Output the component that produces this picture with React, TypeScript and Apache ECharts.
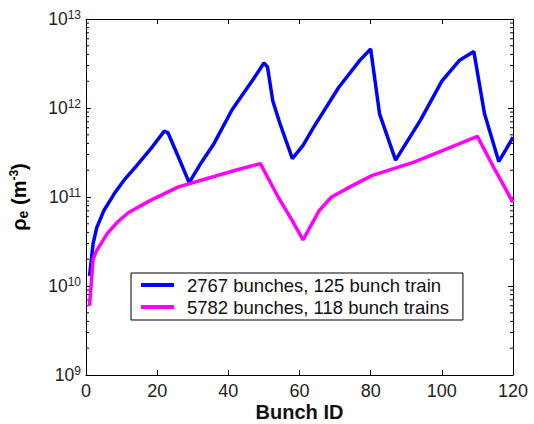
import React, { useEffect, useRef } from "react";
import * as echarts from "echarts";

const blueBunch = [1, 2, 3, 5, 8, 11, 14, 18, 22, 23, 26, 29, 32, 36, 41, 47, 50, 51, 52.5, 54.5, 58, 61, 64, 71, 77, 80, 82.5, 87, 94, 100, 105, 109, 112, 116, 118, 120];
const blueValues = [1.3e10, 3e10, 4.5e10, 7e10, 1.1e11, 1.6e11, 2.2e11, 3.4e11, 5.5e11, 5.3e11, 2.8e11, 1.45e11, 2.3e11, 4.0e11, 9.5e11, 2.1e12, 3.2e12, 2.9e12, 1.2e12, 6.7e11, 2.7e11, 3.8e11, 6.1e11, 1.7e12, 3.45e12, 4.6e12, 8.6e11, 2.6e11, 7.3e11, 2.0e12, 3.45e12, 4.3e12, 8.6e11, 2.5e11, 3.4e11, 4.7e11];

const magentaBunch = [1, 2, 3, 6, 9, 12, 18, 26, 36, 42, 49, 54, 58, 61, 65.5, 69, 75, 80.5, 92, 100, 110, 115, 120];
const magentaValues = [6e9, 2.0e10, 2.5e10, 3.9e10, 5.3e10, 6.7e10, 9.1e10, 1.3e11, 1.7e11, 2.0e11, 2.37e11, 1.0e11, 5.4e10, 3.3e10, 7e10, 1.0e11, 1.35e11, 1.75e11, 2.45e11, 3.3e11, 4.8e11, 2.0e11, 8.7e10];

const seriesNames = ["2767 bunches, 125 bunch train", "5782 bunches, 118 bunch trains"];
const xTicks = [0, 20, 40, 60, 80, 100, 120];
const yDecades = [9, 10, 11, 12, 13];

const FONT = "'Liberation Sans', Arial, sans-serif";

export default function App() {
  const ref = useRef<HTMLDivElement>(null);
  useEffect(() => {
    if (!ref.current) return;
    const chart = echarts.init(ref.current, undefined, { renderer: "svg" });
    const minorVals: number[] = [];
    for (let d = 9; d < 13; d++) {
      for (let m = 2; m <= 9; m++) minorVals.push(m * Math.pow(10, d));
    }
    const majorVals = yDecades.map((d) => Math.pow(10, d));
    const black = "#000";
    const baseY = (pos: string, showLabel: boolean) => ({
      type: "log",
      logBase: 10,
      min: 1e9,
      max: 1e13,
      position: pos,
      gridIndex: 0,
      axisLine: { show: true, onZero: false, lineStyle: { color: black, width: 1 } },
      axisTick: {
        show: true,
        inside: true,
        length: 5,
        lineStyle: { color: black, width: 1 },
        customValues: majorVals,
      },
      splitLine: { show: false },
      minorTick: { show: false },
      axisLabel: {
        show: showLabel,
        customValues: majorVals,
        margin: 5,
        formatter: (v: number) => `{n|10}{e|${Math.round(Math.log10(v))}}`,
        rich: {
          n: { fontSize: 17.5, fontFamily: FONT, color: "#222", lineHeight: 20 },
          e: { fontSize: 12, fontFamily: FONT, color: "#222", verticalAlign: "top", lineHeight: 12, padding: [0, 0, 10, 0] },
        },
      },
      ...(showLabel
        ? {
            name: "{a|ρ}{b|e}{a| (m}{c|-3}{a|)}",
            nameLocation: "middle",
            nameGap: 56,
            nameRotate: 90,
            nameMoveOverlap: false,
            nameTextStyle: {
              rich: {
                a: { fontSize: 20, fontWeight: "bold", fontFamily: FONT, color: black },
                b: { fontSize: 14, fontWeight: "bold", fontFamily: FONT, color: black, padding: [8, 0, 0, 0] },
                c: { fontSize: 12, fontWeight: "bold", fontFamily: FONT, color: black, padding: [0, 0, 10, 0] },
              },
            },
          }
        : {}),
    });
    const baseX = (pos: string, showLabel: boolean) => ({
      type: "value",
      min: 0,
      max: 120,
      interval: 20,
      position: pos,
      axisLine: { show: true, onZero: false, lineStyle: { color: black, width: 1 } },
      axisTick: { show: true, inside: true, length: 5, lineStyle: { color: black } },
      splitLine: { show: false },
      axisLabel: { show: showLabel, fontSize: 18, fontFamily: FONT, color: "#222", margin: 7 },
      ...(showLabel
        ? {
            name: "Bunch ID",
            nameLocation: "middle",
            nameGap: 27,
            nameMoveOverlap: false,
            nameTextStyle: { fontSize: 20, lineHeight: 20, fontWeight: "bold", fontFamily: FONT, color: "#111" },
          }
        : {}),
    });
    chart.setOption({
      animation: false,
      backgroundColor: "#fff",
      grid: { left: 86, top: 19, right: 21, bottom: 49, containLabel: false, outerBoundsMode: "none" },
      xAxis: [baseX("bottom", true), baseX("top", false)],
      yAxis: [baseY("left", true), baseY("right", false)],
      legend: {
        left: 131,
        top: 273,
        orient: "vertical",
        backgroundColor: "#fff",
        borderColor: black,
        borderWidth: 1,
        borderRadius: 0,
        padding: [2, 14, 3, 10],
        itemGap: 2,
        itemWidth: 33,
        itemHeight: 4,
        icon: "rect",
        data: seriesNames,
        textStyle: { fontSize: 18.5, fontFamily: FONT, color: "#111", lineHeight: 20, padding: [0, 0, 0, 8] },
      },
      series: [
        {
          name: "minorTicks",
          type: "custom",
          xAxisIndex: 0,
          yAxisIndex: 0,
          clip: false,
          silent: true,
          z: 1,
          data: minorVals.map((v) => [0, v]),
          renderItem: (params: any, api: any) => {
            const v = api.value(1);
            const pl = api.coord([0, v]);
            const pr = api.coord([120, v]);
            const style = { stroke: black, lineWidth: 1 };
            return {
              type: "group",
              children: [
                { type: "line", shape: { x1: pl[0], y1: pl[1], x2: pl[0] + 3, y2: pl[1] }, style },
                { type: "line", shape: { x1: pr[0] - 3, y1: pr[1], x2: pr[0], y2: pr[1] }, style },
              ],
            };
          },
        },
        {
          name: seriesNames[0],
          type: "line",
          xAxisIndex: 0,
          yAxisIndex: 0,
          showSymbol: false,
          data: blueBunch.map((b, i) => [b, blueValues[i]]),
          lineStyle: { color: "#0000ff", width: 3.5 },
          itemStyle: { color: "#0000ff" },
          clip: true,
        },
        {
          name: seriesNames[1],
          type: "line",
          xAxisIndex: 0,
          yAxisIndex: 0,
          showSymbol: false,
          data: magentaBunch.map((b, i) => [b, magentaValues[i]]),
          lineStyle: { color: "#ff00ff", width: 3.5 },
          itemStyle: { color: "#ff00ff" },
          clip: true,
        },
      ],
    });
    return () => chart.dispose();
  }, []);
  return <div ref={ref} style={{ position: "absolute", left: 0, top: 0, width: 534, height: 424 }} />;
}
